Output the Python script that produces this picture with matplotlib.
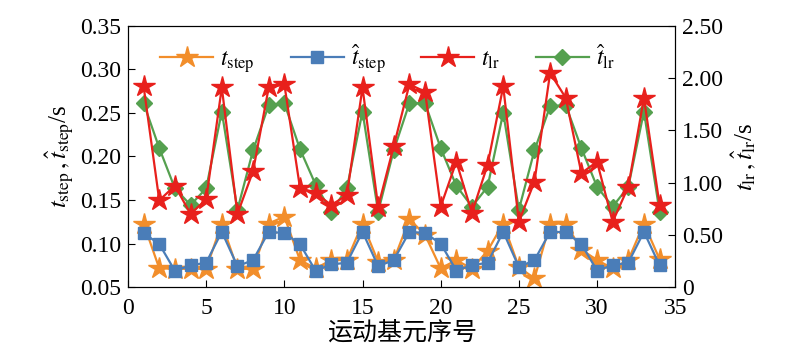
import matplotlib
matplotlib.use("Agg")
import matplotlib.pyplot as plt
from matplotlib import font_manager as fm
from matplotlib.ticker import FuncFormatter

names = {f.name for f in fm.fontManager.ttflist}
serif = next((n for n in ['Liberation Serif', 'Times New Roman', 'DejaVu Serif'] if n in names), 'serif')
plt.rcParams['font.family'] = [serif, 'Noto Sans CJK SC', 'DejaVu Sans']
plt.rcParams['mathtext.fontset'] = 'stix'

idx = list(range(1, 35))
t_step = [0.123, 0.0715, 0.071, 0.071, 0.071, 0.123, 0.071, 0.071, 0.123, 0.131,
          0.081, 0.0715, 0.081, 0.081, 0.123, 0.079, 0.081, 0.128, 0.110, 0.0715,
          0.081, 0.071, 0.0917, 0.123, 0.073, 0.060, 0.123, 0.123, 0.093, 0.081,
          0.0715, 0.081, 0.123, 0.082]
t_step_hat = [0.112, 0.0994, 0.0687, 0.075, 0.078, 0.1135, 0.074, 0.081, 0.1135, 0.112,
              0.0994, 0.0687, 0.076, 0.078, 0.1135, 0.074, 0.081, 0.1135, 0.112, 0.100,
              0.069, 0.075, 0.078, 0.1135, 0.073, 0.081, 0.1135, 0.113, 0.0994, 0.069,
              0.075, 0.078, 0.1135, 0.075]
t_lr = [1.92, 0.83, 0.97, 0.70, 0.84, 1.91, 0.70, 1.11, 1.91, 1.94,
        0.95, 0.90, 0.785, 0.88, 1.91, 0.77, 1.35, 1.94, 1.87, 0.77,
        1.20, 0.71, 1.17, 1.92, 0.625, 1.01, 2.05, 1.81, 1.09, 1.20,
        0.625, 0.96, 1.81, 0.785]
t_lr_hat = [1.76, 1.33, 0.945, 0.785, 0.945, 1.68, 0.74, 1.31, 1.74, 1.76,
            1.32, 0.98, 0.72, 0.945, 1.68, 0.72, 1.31, 1.76, 1.76, 1.33,
            0.97, 0.77, 0.96, 1.67, 0.74, 1.31, 1.73, 1.74, 1.33, 0.96,
            0.77, 0.96, 1.68, 0.72]

c_orange = '#f28e2b'
c_blue = '#4a7db8'
c_red = '#e8201c'
c_green = '#55a04f'

fig = plt.figure(figsize=(8, 3.54), dpi=100)
ax = fig.add_axes([0.16, 0.189, 0.684, 0.738])
ax2 = ax.twinx()

l1, = ax.plot(idx, t_step, color=c_orange, lw=1.6, marker='*', ms=16, label=r'$t_{\mathrm{step}}$')
l2, = ax.plot(idx, t_step_hat, color=c_blue, lw=1.6, marker='s', ms=9, label=r'$\hat{t}_{\mathrm{step}}$')
l4, = ax2.plot(idx, t_lr_hat, color=c_green, lw=1.6, marker='D', ms=8, label=r'$\hat{t}_{\mathrm{lr}}$')
l3, = ax2.plot(idx, t_lr, color=c_red, lw=1.6, marker='*', ms=16, label=r'$t_{\mathrm{lr}}$')

ax.set_xlim(0, 35)
ax.set_ylim(0.05, 0.35)
ax2.set_ylim(0, 2.5)
ax.set_xticks(range(0, 36, 5))
ax.set_yticks([0.05, 0.10, 0.15, 0.20, 0.25, 0.30, 0.35])
ax2.set_yticks([0, 0.5, 1.0, 1.5, 2.0, 2.5])
ax.yaxis.set_major_formatter(FuncFormatter(lambda v, p: f'{v:.2f}'))
ax2.yaxis.set_major_formatter(FuncFormatter(lambda v, p: '0' if abs(v) < 1e-9 else f'{v:.2f}'))

ax.tick_params(direction='in', labelsize=17, length=5, right=False, top=False, pad=5)
ax.tick_params(axis='x', pad=8)
ax2.tick_params(direction='in', labelsize=17, length=5, left=False, top=False, pad=5)

ax.set_xlabel('运动基元序号', family=['Noto Sans CJK SC'], fontsize=18, labelpad=0)
ax.set_ylabel(r'$t_{\mathrm{step}}\,,\hat{t}_{\mathrm{step}}$/s', fontsize=18, labelpad=3)
ax2.set_ylabel(r'$t_{\mathrm{lr}}\,,\hat{t}_{\mathrm{lr}}$/s', fontsize=18, labelpad=4)

ax2.legend([l1, l2, l3, l4], [l.get_label() for l in [l1, l2, l3, l4]],
           loc='upper left', bbox_to_anchor=(0.02, 1.02), ncol=4, frameon=False,
           fontsize=17, handlelength=2.25, columnspacing=1.5, handletextpad=0.3)

fig.savefig('out.png', dpi=100)
